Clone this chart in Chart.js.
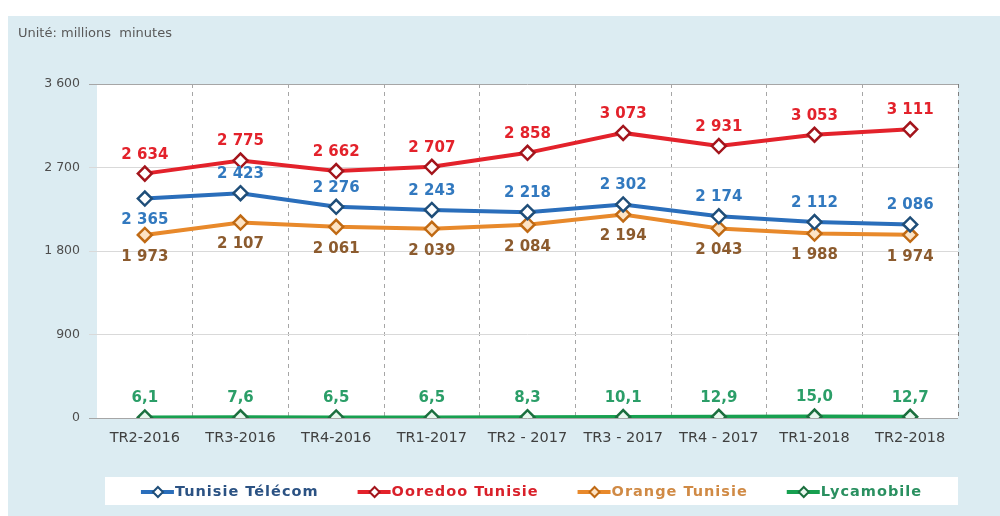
<!DOCTYPE html>
<html>
<head>
<meta charset="utf-8">
<script src="https://cdn.jsdelivr.net/npm/chart.js@4.4.1/dist/chart.umd.min.js"></script>
<style>
html, body { margin: 0; padding: 0; background: #fff; }
#wrap { width: 1000px; height: 516px; }
</style>
</head>
<body>
<div id="wrap"><canvas id="chart" width="1000" height="516"></canvas></div>
<script>
const quarters = ['TR2-2016', 'TR3-2016', 'TR4-2016', 'TR1-2017', 'TR2 - 2017', 'TR3 - 2017', 'TR4 - 2017', 'TR1-2018', 'TR2-2018'];
const tunisieTelecom = [2365, 2423, 2276, 2243, 2218, 2302, 2174, 2112, 2086];
const ooredoo = [2634, 2775, 2662, 2707, 2858, 3073, 2931, 3053, 3111];
const orange = [1973, 2107, 2061, 2039, 2084, 2194, 2043, 1988, 1974];
const lycamobile = [6.1, 7.6, 6.5, 6.5, 8.3, 10.1, 12.9, 15.0, 12.7];
const yMax = 3600;
const yStep = 900;

const FONT = '"DejaVu Sans", Verdana, sans-serif';

// "2 634" / "6,1"
function fmt(v, decimals) {
    if (decimals) return v.toFixed(decimals).replace('.', ',');
    return String(Math.round(v)).replace(/\B(?=(\d{3})+(?!\d))/g, ' ');
}

function series(label, data, line, border, fill, labelColor, legendColor, below, decimals) {
    return {
        label: label,
        data: data,
        borderColor: line,
        backgroundColor: line,
        borderWidth: 4,
        tension: 0,
        pointStyle: 'rectRot',
        pointRadius: 7,
        pointBorderWidth: 2.5,
        pointBorderColor: border,
        pointBackgroundColor: fill,
        labelColor: labelColor,
        legendColor: legendColor,
        labelBelow: below,
        decimals: decimals
    };
}

// light blue panel, white plot area, unit caption
const panelPlugin = {
    id: 'panel',
    beforeDraw(chart) {
        const { ctx, chartArea: a } = chart;
        ctx.save();
        ctx.fillStyle = '#DCECF2';
        ctx.fillRect(8, 16, chart.width - 8, chart.height - 16);
        ctx.fillStyle = '#fff';
        ctx.fillRect(a.left, a.top, a.right - a.left, a.bottom - a.top);
        ctx.font = '13px ' + FONT;
        ctx.fillStyle = '#595959';
        ctx.textBaseline = 'middle';
        ctx.fillText('Unité: millions  minutes', 18, 34);
        ctx.restore();
    }
};

// value labels above / below each point
const valueLabels = {
    id: 'valueLabels',
    afterDatasetsDraw(chart) {
        const ctx = chart.ctx;
        ctx.save();
        ctx.font = 'bold 15px ' + FONT;
        ctx.textAlign = 'center';
        ctx.textBaseline = 'middle';
        chart.data.datasets.forEach((ds, di) => {
            const meta = chart.getDatasetMeta(di);
            meta.data.forEach((pt, i) => {
                const below = ds.labelBelow(i);
                ctx.fillStyle = ds.labelColor;
                ctx.fillText(fmt(ds.data[i], ds.decimals), pt.x, pt.y + (below ? 22 : -19));
            });
        });
        ctx.restore();
    }
};

// legend in a white strip under the plot
const boxLegend = {
    id: 'boxLegend',
    afterDraw(chart) {
        const ctx = chart.ctx;
        const box = { x: 105, y: 477, w: 853, h: 28 };
        const mark = 34, gap = 39;
        ctx.save();
        ctx.fillStyle = '#fff';
        ctx.fillRect(box.x, box.y, box.w, box.h);
        ctx.font = 'bold 14.5px ' + FONT;
        ctx.letterSpacing = '1px';
        ctx.textBaseline = 'middle';
        const items = chart.data.datasets.map(ds => ({ ds: ds, w: mark + ctx.measureText(ds.label).width }));
        const total = items.reduce((s, it) => s + it.w, 0) + gap * (items.length - 1);
        let x = box.x + (box.w - total) / 2;
        const cy = box.y + box.h / 2 + 1;
        items.forEach(it => {
            const ds = it.ds;
            ctx.strokeStyle = ds.borderColor;
            ctx.lineWidth = 4;
            ctx.beginPath();
            ctx.moveTo(x, cy);
            ctx.lineTo(x + mark - 1, cy);
            ctx.stroke();
            const cx = x + mark / 2, r = 5;
            ctx.beginPath();
            ctx.moveTo(cx, cy - r);
            ctx.lineTo(cx + r, cy);
            ctx.lineTo(cx, cy + r);
            ctx.lineTo(cx - r, cy);
            ctx.closePath();
            ctx.fillStyle = ds.pointBackgroundColor;
            ctx.fill();
            ctx.lineWidth = 2;
            ctx.strokeStyle = ds.pointBorderColor;
            ctx.stroke();
            ctx.fillStyle = ds.legendColor;
            ctx.fillText(ds.label, x + mark, cy);
            x += it.w + gap;
        });
        ctx.restore();
    }
};

new Chart(document.getElementById('chart'), {
    type: 'line',
    data: {
        labels: quarters,
        datasets: [
            series('Tunisie Télécom', tunisieTelecom, '#2A6EBB', '#1F4E79', '#fff', '#3279BF', '#2B5283', i => i === 0),
            series('Ooredoo Tunisie', ooredoo, '#E3222B', '#A3151C', '#fff', '#E3222B', '#D9202A', () => false),
            series('Orange Tunisie', orange, '#E8892B', '#C06A14', '#FDE3C4', '#8C5B2E', '#D08A45', () => true),
            series('Lycamobile', lycamobile, '#17A050', '#1B6F3E', '#E8F7EE', '#2B9E68', '#2A9060', () => false, 1)
        ]
    },
    options: {
        responsive: false,
        animation: false,
        layout: { padding: { left: 0, right: 42, top: 84, bottom: 58 } },
        plugins: {
            legend: { display: false },
            tooltip: { enabled: false }
        },
        scales: {
            x: {
                offset: true,
                grid: {
                    offset: true,
                    drawTicks: false,
                    color: c => c.index === 0 ? 'rgba(0,0,0,0)' : (c.index === undefined ? '#7f7f7f' : '#a6a6a6')
                },
                border: { display: false, dash: [4, 4] },
                ticks: {
                    padding: 12,
                    color: '#404040',
                    maxRotation: 0,
                    autoSkip: false,
                    font: { family: FONT, size: 14.5 }
                },
                afterFit(s) { s.height = 40; }
            },
            y: {
                min: 0,
                max: yMax,
                ticks: {
                    stepSize: yStep,
                    padding: 9,
                    color: '#4d4d4d',
                    font: { family: FONT, size: 12.5 },
                    callback: v => fmt(v)
                },
                grid: {
                    tickLength: 8,
                    color: c => (c.tick && (c.tick.value === yMax || c.tick.value === 0)) ? '#a6a6a6' : '#d9d9d9'
                },
                border: { display: false },
                afterFit(s) { s.width = 97; }
            }
        }
    },
    plugins: [panelPlugin, valueLabels, boxLegend]
});
</script>
</body>
</html>
